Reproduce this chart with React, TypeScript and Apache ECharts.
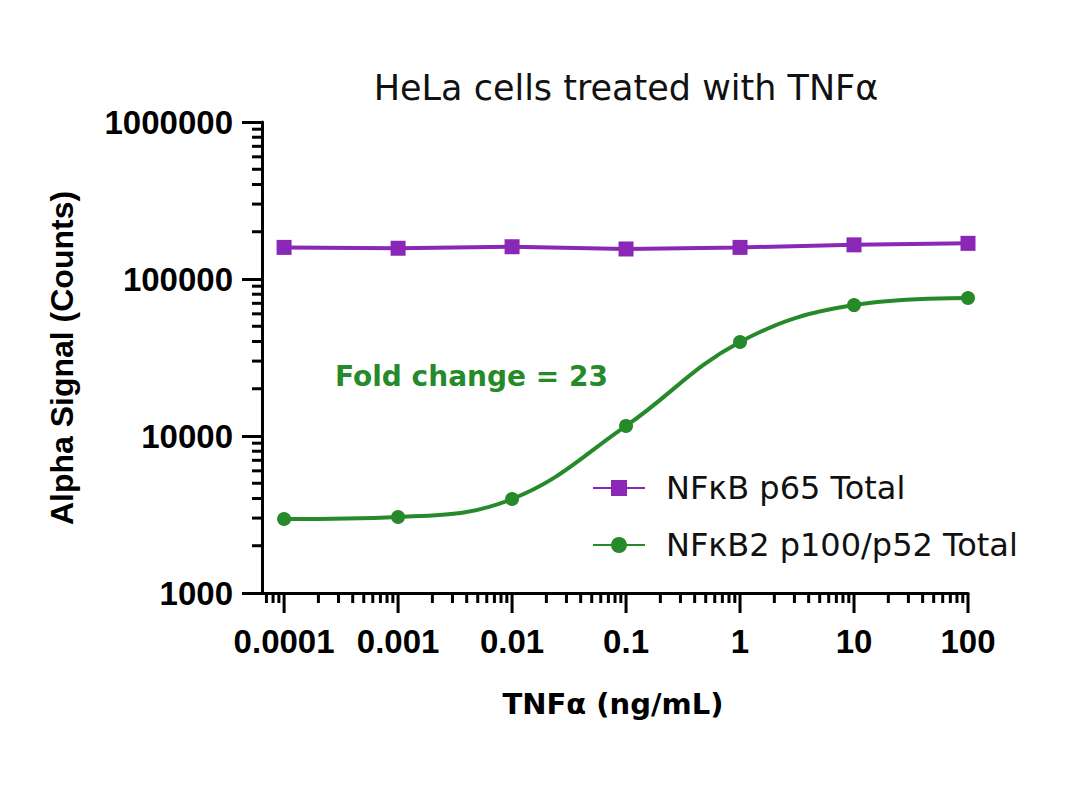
import React, { useEffect, useRef } from 'react';
import * as echarts from 'echarts';

// ---- data ----
const concentrations = [0.0001, 0.001, 0.01, 0.1, 1, 10, 100];
const p65Total = [159000, 157000, 160500, 155300, 159000, 165000, 168700];
const p100p52Total = [2960, 3050, 3970, 11600, 39700, 68200, 75700];
const seriesNames = ['NFκB p65 Total', 'NFκB2 p100/p52 Total'];
const xTickValues = [0.0001, 0.001, 0.01, 0.1, 1, 10, 100];
const xTickLabels = ['0.0001', '0.001', '0.01', '0.1', '1', '10', '100'];
const xLeadingMinor = [7e-5, 8e-5, 9e-5];
const minorMultipliers = [2, 3, 4, 5, 6, 7, 8, 9];
const yDecades = [1000, 10000, 100000];
const X_MIN = 6.4e-5;
const X_MAX = 100;
const Y_MIN = 1000;
const Y_MAX = 1000000;

const PURPLE = '#8A27B6';
const GREEN = '#268A2A';
const WIDE_FONT = 'DejaVu Sans';
const ARIAL = 'Liberation Sans, Arial, sans-serif';

const xMinorTicks: number[] = [...xLeadingMinor];
xTickValues.slice(0, -1).forEach((d) => minorMultipliers.forEach((m) => xMinorTicks.push(d * m)));
const yMinorTicks: number[] = [];
yDecades.forEach((d) => minorMultipliers.forEach((m) => yMinorTicks.push(d * m)));

export default function App() {
  const ref = useRef<HTMLDivElement>(null);
  useEffect(() => {
    if (!ref.current) return;
    const chart = echarts.init(ref.current, undefined, { renderer: 'svg' });
    const xTickData = [
      ...xMinorTicks.map((v) => [v, Y_MIN, 0, -1]),
      ...xTickValues.map((v, i) => [v, Y_MIN, 1, i]),
    ];
    const yTickData = yMinorTicks.map((v) => [X_MIN, v]);
    chart.setOption({
      animation: false,
      title: {
        text: 'HeLa cells treated with TNFα',
        left: 621,
        top: 65,
        textAlign: 'center',
        textStyle: { fontFamily: WIDE_FONT, fontWeight: 'normal', fontSize: 35, color: '#111' },
      },
      grid: { left: 262, right: 112, top: 122, bottom: 202, containLabel: false },
      xAxis: {
        type: 'log',
        min: X_MIN,
        max: X_MAX,
        axisLine: { lineStyle: { color: '#000', width: 3 } },
        axisTick: { show: false },
        axisLabel: { show: false },
        splitLine: { show: false },
      },
      yAxis: {
        type: 'log',
        min: Y_MIN,
        max: Y_MAX,
        axisLine: { show: true, lineStyle: { color: '#000', width: 3 } },
        axisTick: { show: true, length: 20, lineStyle: { color: '#000', width: 3 } },
        axisLabel: {
          margin: 29,
          fontFamily: ARIAL,
          fontWeight: 'bold',
          fontSize: 33,
          color: '#000',
          formatter: (v: number) => String(Math.round(v)),
        },
        splitLine: { show: false },
      },
      legend: {
        orient: 'vertical',
        left: 587,
        top: 465,
        itemWidth: 52,
        itemHeight: 20,
        itemGap: 21,
        data: seriesNames,
        textStyle: { fontFamily: WIDE_FONT, fontSize: 32, color: '#111', lineHeight: 36, padding: [0, 0, 0, 16] },
      },
      graphic: [
        {
          type: 'text',
          x: 62,
          y: 358,
          rotation: Math.PI / 2,
          style: {
            text: 'Alpha Signal (Counts)',
            fontFamily: ARIAL,
            fontWeight: 'bold',
            fontSize: 32,
            fill: '#000',
            align: 'center',
            verticalAlign: 'middle',
          },
        },
        {
          type: 'text',
          x: 613,
          y: 704,
          style: {
            text: 'TNFα (ng/mL)',
            fontFamily: WIDE_FONT,
            fontWeight: 'bold',
            fontSize: 29,
            fill: '#000',
            align: 'center',
            verticalAlign: 'middle',
          },
        },
        {
          type: 'text',
          x: 335,
          y: 376,
          style: {
            text: 'Fold change = 23',
            fontFamily: WIDE_FONT,
            fontWeight: 'bold',
            fontSize: 28,
            fill: GREEN,
            align: 'left',
            verticalAlign: 'middle',
          },
        },
      ],
      series: [
        {
          name: seriesNames[0],
          type: 'line',
          data: concentrations.map((c, i) => [c, p65Total[i]]),
          symbol: 'rect',
          symbolSize: 15,
          lineStyle: { color: PURPLE, width: 4 },
          itemStyle: { color: PURPLE },
          z: 5,
        },
        {
          name: seriesNames[1],
          type: 'line',
          data: concentrations.map((c, i) => [c, p100p52Total[i]]),
          symbol: 'circle',
          symbolSize: 14,
          smooth: 0.4,
          lineStyle: { color: GREEN, width: 4 },
          itemStyle: { color: GREEN },
          z: 5,
        },
        {
          type: 'custom',
          clip: false,
          silent: true,
          data: xTickData,
          encode: { x: 0, y: 1 },
          renderItem: (params: any, api: any) => {
            const x = api.value(0);
            const major = api.value(2);
            const idx = api.value(3);
            const p = api.coord([x, Y_MIN]);
            const len = major ? 20 : 10;
            const children: any[] = [
              {
                type: 'line',
                shape: { x1: p[0], y1: p[1], x2: p[0], y2: p[1] + len },
                style: { stroke: '#000', lineWidth: 3 },
              },
            ];
            if (major) {
              children.push({
                type: 'text',
                x: p[0],
                y: p[1] + 48,
                style: {
                  text: xTickLabels[idx],
                  fontFamily: ARIAL,
                  fontWeight: 'bold',
                  fontSize: 33,
                  fill: '#000',
                  align: 'center',
                  verticalAlign: 'middle',
                },
              });
            }
            return { type: 'group', children };
          },
        },
        {
          type: 'custom',
          clip: false,
          silent: true,
          data: yTickData,
          encode: { x: 0, y: 1 },
          renderItem: (params: any, api: any) => {
            const p = api.coord([api.value(0), api.value(1)]);
            return {
              type: 'line',
              shape: { x1: p[0], y1: p[1], x2: p[0] - 10, y2: p[1] },
              style: { stroke: '#000', lineWidth: 3 },
            };
          },
        },
      ],
    });
    return () => chart.dispose();
  }, []);
  return <div ref={ref} style={{ position: 'fixed', left: 0, top: 0, width: 1080, height: 795, background: '#fff' }} />;
}
